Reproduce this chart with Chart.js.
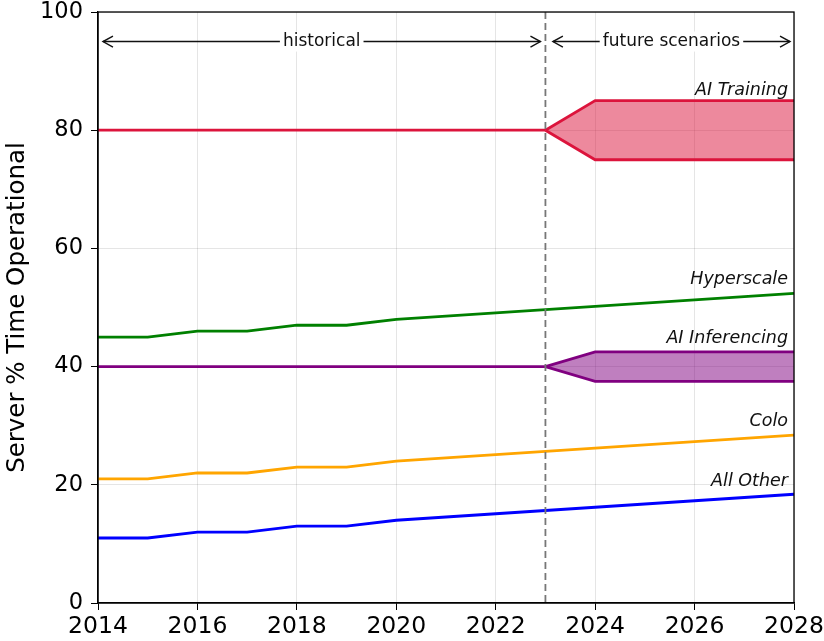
<!DOCTYPE html>
<html>
<head>
<meta charset="utf-8">
<script src="https://cdn.jsdelivr.net/npm/chart.js@4.4.1/dist/chart.umd.min.js"></script>
<style>
  html, body { margin: 0; padding: 0; background: #fff; }
  #wrap { width: 824px; height: 641px; }
</style>
</head>
<body>
<div id="wrap"><canvas id="grafico"></canvas></div>
<script>
// dados
const anos = [2014, 2015, 2016, 2017, 2018, 2019, 2020, 2021, 2022, 2023, 2024, 2025, 2026, 2027, 2028]
const hyperscale = [45, 45, 46, 46, 47, 47, 48, 48.55, 49.1, 49.65, 50.2, 50.75, 51.3, 51.85, 52.4]
const colo = [21, 21, 22, 22, 23, 23, 24, 24.55, 25.1, 25.65, 26.2, 26.75, 27.3, 27.85, 28.4]
const allOther = [11, 11, 12, 12, 13, 13, 14, 14.55, 15.1, 15.65, 16.2, 16.75, 17.3, 17.85, 18.4]

const anosHist = [2014, 2015, 2016, 2017, 2018, 2019, 2020, 2021, 2022, 2023]
const aiTrainingHist = [80, 80, 80, 80, 80, 80, 80, 80, 80, 80]
const aiInferHist = [40, 40, 40, 40, 40, 40, 40, 40, 40, 40]

const anosCenario = [2023, 2024, 2028]
const aiTrainingAlto = [80, 85, 85]
const aiTrainingBaixo = [80, 75, 75]
const aiInferAlto = [40, 42.5, 42.5]
const aiInferBaixo = [40, 37.5, 37.5]

const anoCorte = 2023
const rotulos = ['AI Training', 'Hyperscale', 'AI Inferencing', 'Colo', 'All Other']
const rotulosY = [86, 54, 44, 30, 19.8]

const xTicks = [2014, 2016, 2018, 2020, 2022, 2024, 2026, 2028]
const yTicks = [0, 20, 40, 60, 80, 100]

function pontos(xs, ys) {
  return xs.map((x, i) => ({ x: x, y: ys[i] }))
}

function linha(label, xs, ys, cor, extra) {
  return Object.assign({
    label: label,
    data: pontos(xs, ys),
    borderColor: cor,
    backgroundColor: cor,
    borderWidth: 2.8,
    pointRadius: 0,
    tension: 0,
    fill: false
  }, extra || {})
}

const datasets = [
  linha('AI Training', anosHist, aiTrainingHist, '#DC143C'),
  linha('AI Training alto', anosCenario, aiTrainingAlto, '#DC143C'),
  linha('AI Training baixo', anosCenario, aiTrainingBaixo, '#DC143C', { fill: '-1', backgroundColor: 'rgba(220,20,60,0.5)' }),
  linha('Hyperscale', anos, hyperscale, 'green'),
  linha('AI Inferencing', anosHist, aiInferHist, 'purple'),
  linha('AI Inferencing alto', anosCenario, aiInferAlto, 'purple'),
  linha('AI Inferencing baixo', anosCenario, aiInferBaixo, 'purple', { fill: '-1', backgroundColor: 'rgba(128,0,128,0.5)' }),
  linha('Colo', anos, colo, 'orange'),
  linha('All Other', anos, allOther, 'blue')
]

function seta(ctx, x1, x2, y, dir) {
  // ponta de seta
  const px = dir > 0 ? x2 : x1
  ctx.beginPath()
  ctx.moveTo(px - dir * 10, y - 5.5)
  ctx.lineTo(px, y)
  ctx.lineTo(px - dir * 10, y + 5.5)
  ctx.stroke()
}

const extras = {
  id: 'extras',
  afterDatasetsDraw(chart) {
    const ctx = chart.ctx
    const xs = chart.scales.x
    const ys = chart.scales.y
    const area = chart.chartArea
    ctx.save()

    // linha tracejada vertical
    const xc = xs.getPixelForValue(anoCorte)
    ctx.strokeStyle = '#777'
    ctx.lineWidth = 1.8
    ctx.setLineDash([7, 4])
    ctx.beginPath()
    ctx.moveTo(xc, area.top)
    ctx.lineTo(xc, area.bottom)
    ctx.stroke()
    ctx.setLineDash([])

    // setas historical / future
    const ya = ys.getPixelForValue(95)
    ctx.strokeStyle = '#111'
    ctx.fillStyle = '#111'
    ctx.lineWidth = 1.4
    const trechos = [
      { a: xs.getPixelForValue(2014.1), b: xs.getPixelForValue(2022.9), txt: 'historical' },
      { a: xs.getPixelForValue(2023.15), b: xs.getPixelForValue(2027.92), txt: 'future scenarios' }
    ]
    ctx.font = '17px "DejaVu Sans"'
    ctx.textAlign = 'center'
    ctx.textBaseline = 'middle'
    trechos.forEach(t => {
      ctx.beginPath()
      ctx.moveTo(t.a, ya)
      ctx.lineTo(t.b, ya)
      ctx.stroke()
      seta(ctx, t.a, t.b, ya, -1)
      seta(ctx, t.a, t.b, ya, 1)
      const meio = (t.a + t.b) / 2
      const w = ctx.measureText(t.txt).width
      ctx.fillStyle = '#fff'
      ctx.fillRect(meio - w / 2 - 3, ya - 10, w + 6, 20)
      ctx.fillStyle = '#111'
      ctx.fillText(t.txt, meio, ya)
    })

    // nomes das series
    ctx.font = 'italic 17.5px "DejaVu Sans"'
    ctx.textAlign = 'right'
    ctx.textBaseline = 'alphabetic'
    rotulos.forEach((r, i) => {
      ctx.fillText(r, area.right - 6, ys.getPixelForValue(rotulosY[i]))
    })

    // moldura
    ctx.strokeStyle = '#000'
    ctx.lineWidth = 1.3
    ctx.strokeRect(area.left, area.top, area.right - area.left, area.bottom - area.top)
    ctx.restore()
  }
}

const ctx = document.getElementById('grafico').getContext('2d')
new Chart(ctx, {
  type: 'line',
  data: { datasets: datasets },
  plugins: [extras],
  options: {
    responsive: true,
    maintainAspectRatio: false,
    animation: false,
    layout: { padding: { top: 12, right: 30, left: 0, bottom: 0 } },
    plugins: { legend: { display: false }, tooltip: { enabled: false } },
    scales: {
      x: {
        type: 'linear',
        min: 2014,
        max: 2028,
        afterBuildTicks: s => { s.ticks = xTicks.map(v => ({ value: v })) },
        afterFit: s => { s.height = 38; s.paddingLeft = 0; s.paddingRight = 0 },
        ticks: { callback: v => String(v), color: '#000', font: { size: 23.5, family: 'DejaVu Sans' }, padding: 3, maxRotation: 0 },
        grid: { color: 'rgba(0,0,0,0.1)', tickColor: '#000', tickLength: 7 },
        border: { color: '#000', width: 1.3 }
      },
      y: {
        min: 0,
        max: 100,
        afterBuildTicks: s => { s.ticks = yTicks.map(v => ({ value: v })) },
        afterFit: s => { s.width = 98; s.paddingTop = 0; s.paddingBottom = 0 },
        ticks: { color: '#000', font: { size: 22.5, family: 'DejaVu Sans' }, padding: 8 },
        grid: { color: 'rgba(0,0,0,0.1)', tickColor: '#000', tickLength: 7 },
        border: { color: '#000', width: 1.3 },
        title: { display: true, text: 'Server % Time Operational', color: '#000', font: { size: 24.5, family: 'DejaVu Sans' }, padding: { top: 3, bottom: 2 } }
      }
    }
  }
})
</script>
</body>
</html>
